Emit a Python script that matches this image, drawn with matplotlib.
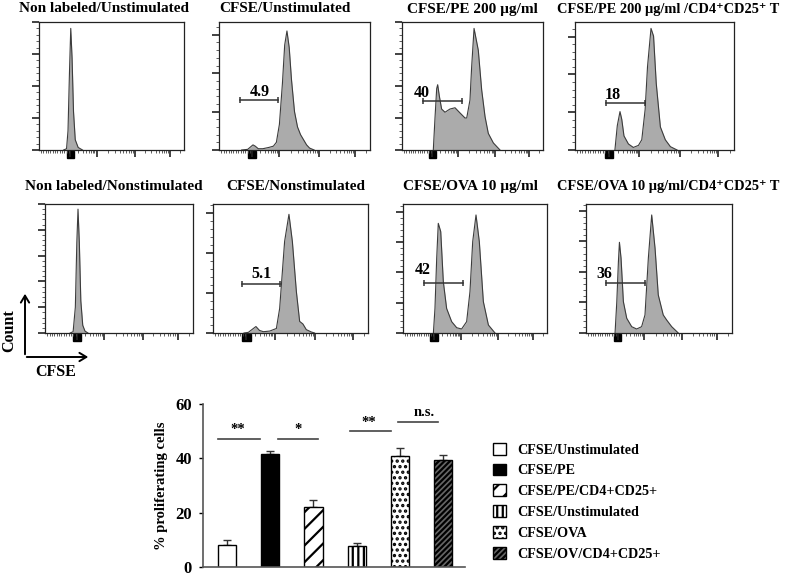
import numpy as np
import matplotlib
matplotlib.use('Agg')
import matplotlib.pyplot as plt
from matplotlib.patches import Rectangle, FancyArrowPatch, Patch
from matplotlib.ticker import MultipleLocator, FixedLocator, NullFormatter

plt.rcParams['font.family'] = ['Liberation Serif', 'DejaVu Serif']
plt.rcParams['font.weight'] = 'bold'
plt.rcParams['hatch.linewidth'] = 1.6

W, H = 800, 577

# ---- histogram data (CFSE channel 0-100, count as % of panel height) ----
titles = ['Non labeled/Unstimulated', 'CFSE/Unstimulated', 'CFSE/PE 200 µg/ml',
          'CFSE/PE 200 µg/ml /CD4⁺CD25⁺ T',
          'Non labeled/Nonstimulated', 'CFSE/Nonstimulated', 'CFSE/OVA 10 µg/ml',
          'CFSE/OVA 10 µg/ml/CD4⁺CD25⁺ T']

nl_unstim_x = [17, 19, 20, 21, 21.9, 22.8, 23.8, 25, 27, 30]
nl_unstim_y = [0, 1, 15, 60, 95, 72, 30, 8, 2, 0]

cfse_unstim_x = [15, 19, 21, 22.5, 24, 26, 29, 33, 36, 38, 40, 42, 43.5, 45, 46.5, 48, 50, 52, 54, 56, 58, 60, 63]
cfse_unstim_y = [0, 0.5, 2.5, 4, 3, 1, 1, 2, 3, 6, 20, 52, 82, 93, 80, 55, 30, 18, 12, 8, 4, 1.5, 0]

cfse_pe_x = [22.2, 23.4, 24.6, 25.3, 26.5, 28.1, 30.5, 34, 37.6, 41.1, 44.7, 45.9, 48.2, 49.4, 51.1, 54.1, 56.5, 58.9, 61.2, 64.8, 69.5]
cfse_pe_y = [0, 25, 48, 51, 42, 32, 29.5, 32, 33, 29, 25, 25, 39, 65, 95, 78, 47, 26, 13, 5.5, 0]

cfse_pe_treg_x = [25.1, 26.6, 28.3, 29.4, 30.8, 33.6, 36.7, 39.9, 42, 44.1, 45.6, 47.8, 49.4, 51.1, 53.7, 56.8, 60, 64.2]
cfse_pe_treg_y = [0, 19, 30, 24, 11, 4.7, 2, 3.6, 8, 31.5, 65, 95, 89, 52, 18, 8, 2.6, 0]

nl_nonstim_x = [17, 19, 20.5, 21.5, 22.3, 23.2, 24.2, 25.5, 27, 29]
nl_nonstim_y = [0, 1, 20, 70, 96, 70, 25, 6, 1.5, 0]

cfse_nonstim_x = [20, 22.8, 25.5, 27.7, 30, 32.5, 36.6, 40.9, 43, 46.2, 49, 51.2, 53.8, 55.9, 58, 60.2, 63.4, 65.5]
cfse_nonstim_y = [0, 0.5, 3, 5, 2, 1, 1.5, 3.5, 19, 71, 92, 71, 32, 9, 7, 2.6, 0.8, 0]

cfse_ova_x = [21.1, 22.2, 23.4, 24.5, 26.2, 28, 30.3, 33.8, 37.3, 40.7, 44.2, 46.5, 48.4, 50.7, 53, 55.8, 59.3, 63.9]
cfse_ova_y = [0, 19.1, 57.9, 85, 78.6, 39.8, 19, 8.8, 4.1, 3.1, 8.8, 32, 70.8, 91.5, 70.8, 24.3, 6.2, 0]

cfse_ova_treg_x = [19.9, 21.1, 22.2, 22.9, 24, 25.6, 27.9, 31.3, 34.7, 38.1, 40.4, 42.7, 45, 47.3, 49.5, 52.9, 55.3, 58.7, 63.2]
cfse_ova_treg_y = [0, 24.3, 55.3, 70.3, 58, 24.3, 11.4, 4.9, 3.1, 4.9, 14, 58, 91.5, 65.6, 29.5, 14, 10, 4.9, 0]

gate_labels = [None, '4.9', '40', '18', None, '5.1', '42', '36']
gate_ranges = [None, (14, 39, 39), (15, 42.5, 38), (19.5, 44, 37),
               None, (18.7, 43.2, 38), (14.6, 41.7, 38.8), (13.7, 40.4, 38.8)]

# ---- bar chart data ----
bar_labels = ['CFSE/Unstimulated', 'CFSE/PE', 'CFSE/PE/CD4+CD25+',
              'CFSE/Unstimulated', 'CFSE/OVA', 'CFSE/OV/CD4+CD25+']
bar_values = [8.0, 41.6, 22.0, 7.6, 40.8, 39.4]
bar_errors = [2.0, 1.0, 2.5, 1.3, 3.0, 1.8]
sig_labels = ['**', '*', '**', 'n.s.']
sig_heights = [47.3, 47.3, 49.9, 53.5]
sig_x0 = [-0.21, 1.18, 2.85, 3.96]
sig_x1 = [0.76, 2.1, 3.8, 4.88]
sig_text_x = [0.25, 1.65, 3.28, 4.56]

# ---- layout (pixels) ----
boxes = [(39, 22, 184, 150), (219, 22, 370, 150), (402, 22, 543, 150), (575, 22, 734, 150),
         (45, 204, 193, 333), (213, 204, 368, 333), (403, 204, 547, 333), (586, 204, 732, 333)]
ysteps = [25, 30, 25, 29.5, 20, 31, 23.5, 23.7]
title_pos = [(19, 9), (219, 9), (407, 9), (557, 9),
             (25, 187), (226, 187), (403, 187), (557, 187)]
title_size = [11, 11, 11, 10.4, 11, 11, 11, 10.4]
label_pos = [None, (27, 45), (14, 44.5), (23.6, 43), None, (31, 45.7), (13.5, 49), (12.7, 45.7)]

fig = plt.figure(figsize=(8, 5.77), dpi=100, facecolor='white')

hist_x = [nl_unstim_x, cfse_unstim_x, cfse_pe_x, cfse_pe_treg_x,
          nl_nonstim_x, cfse_nonstim_x, cfse_ova_x, cfse_ova_treg_x]
hist_y = [nl_unstim_y, cfse_unstim_y, cfse_pe_y, cfse_pe_treg_y,
          nl_nonstim_y, cfse_nonstim_y, cfse_ova_y, cfse_ova_treg_y]

# log-like tick marks for the CFSE axis
majors = [21.6, 40, 66, 90]
minors = list(np.arange(1.5, 21, 1.6))
for a, b in zip(majors, majors[1:] + [114]):
    for k in range(2, 10):
        t = a + (b - a) * np.log10(k)
        if t < 99:
            minors.append(t)

for i in range(8):
    x0, y0, x1, y1 = boxes[i]
    ax = fig.add_axes([x0 / W, 1 - y1 / H, (x1 - x0) / W, (y1 - y0) / H])
    ax.fill_between(hist_x[i], hist_y[i], color='#ababab', lw=0)
    ax.plot(hist_x[i], hist_y[i], color='#3c3c3c', lw=0.8)
    ax.set_xlim(0, 100)
    ax.set_ylim(0, 100)
    ax.xaxis.set_major_locator(FixedLocator(majors))
    ax.xaxis.set_minor_locator(FixedLocator(minors))
    ax.yaxis.set_major_locator(MultipleLocator(ysteps[i]))
    ax.yaxis.set_minor_locator(MultipleLocator(ysteps[i] / 5))
    ax.xaxis.set_major_formatter(NullFormatter())
    ax.yaxis.set_major_formatter(NullFormatter())
    ax.tick_params(which='major', length=5, width=1.2, direction='out', color='#222')
    ax.tick_params(which='minor', length=2.5, width=0.6, direction='out', color='#444')
    for s in ax.spines.values():
        s.set_linewidth(0.9)
        s.set_color('#222')
    ax.add_patch(Rectangle((majors[0] - 2.6, -6.2), 5.2, 5.6, color='black', clip_on=False))
    if gate_ranges[i] is not None:
        g0, g1, gy = gate_ranges[i]
        ax.plot([g0, g1], [gy, gy], color='#333', lw=1.1, marker='|', ms=5, mew=1.1)
        lx, ly = label_pos[i]
        ax.text(lx, ly, gate_labels[i], ha='center', va='center', fontsize=11.5, fontweight='bold')
    tx, ty = title_pos[i]
    fig.text(tx / W, 1 - ty / H, titles[i], ha='left', va='center', fontsize=title_size[i], fontweight='bold')

# Count / CFSE arrows
fig.add_artist(FancyArrowPatch((25 / W, 1 - 357 / H), (25 / W, 1 - 291 / H), transform=fig.transFigure,
                               arrowstyle='->,head_length=5,head_width=3', lw=1.4, color='black'))
fig.add_artist(FancyArrowPatch((24 / W, 1 - 357 / H), (91 / W, 1 - 357 / H), transform=fig.transFigure,
                               arrowstyle='->,head_length=5,head_width=3', lw=1.4, color='black'))
fig.text(9 / W, 1 - 331 / H, 'Count', rotation=90, ha='center', va='center', fontsize=11.5, fontweight='bold')
fig.text(56 / W, 1 - 372 / H, 'CFSE', ha='center', va='center', fontsize=11.5, fontweight='bold')

# ---- bar chart ----
bx = fig.add_axes([203 / W, 1 - 567 / H, 262 / W, 163 / H])
pos = np.arange(len(bar_values))
faces = ['white', 'black', 'white', 'white', 'white', '#666666']
hatches = [None, None, '//', '|||', '...', '//////']
bars = bx.bar(pos, bar_values, width=0.42, color=faces, edgecolor='black', lw=1.0, zorder=2)
for b, h in zip(bars, hatches):
    if h:
        b.set_hatch(h)
bx.errorbar(pos, bar_values, yerr=[np.zeros(len(bar_errors)), bar_errors], fmt='none',
            ecolor='#333', elinewidth=1, capsize=3, capthick=1, zorder=1)
bx.set_xlim(-0.56, 5.51)
bx.set_ylim(0, 60)
bx.set_yticks([0, 20, 40, 60])
bx.set_xticks([])
bx.tick_params(axis='y', length=3, width=1, labelsize=12, pad=5)
for lab in bx.get_yticklabels():
    lab.set_fontweight('bold')
bx.spines['top'].set_visible(False)
bx.spines['right'].set_visible(False)
bx.spines['left'].set_color('#555')
bx.spines['bottom'].set_color('#555')
bx.spines['left'].set_linewidth(1.2)
bx.spines['bottom'].set_linewidth(1.2)
bx.set_ylabel('% proliferating cells', fontsize=10.5, fontweight='bold', labelpad=5)

for x0, x1, s, hgt, xt in zip(sig_x0, sig_x1, sig_labels, sig_heights, sig_text_x):
    bx.plot([x0, x1], [hgt, hgt], color='#444', lw=1.2, clip_on=False)
    bx.text(xt, hgt + 0.8, s, ha='center', va='bottom', fontsize=10.5, fontweight='bold')

handles = [Patch(facecolor=f, edgecolor='black', hatch=h, lw=1.0) for f, h in zip(faces, hatches)]
fig.legend(handles, bar_labels, loc='upper left', bbox_to_anchor=(480 / W, 1 - 430 / H), frameon=False,
           handlelength=0.9, handleheight=0.9, handletextpad=0.8, labelspacing=0.5,
           prop={'weight': 'bold', 'size': 10.2})

fig.savefig('out.png', dpi=100, facecolor='white')
